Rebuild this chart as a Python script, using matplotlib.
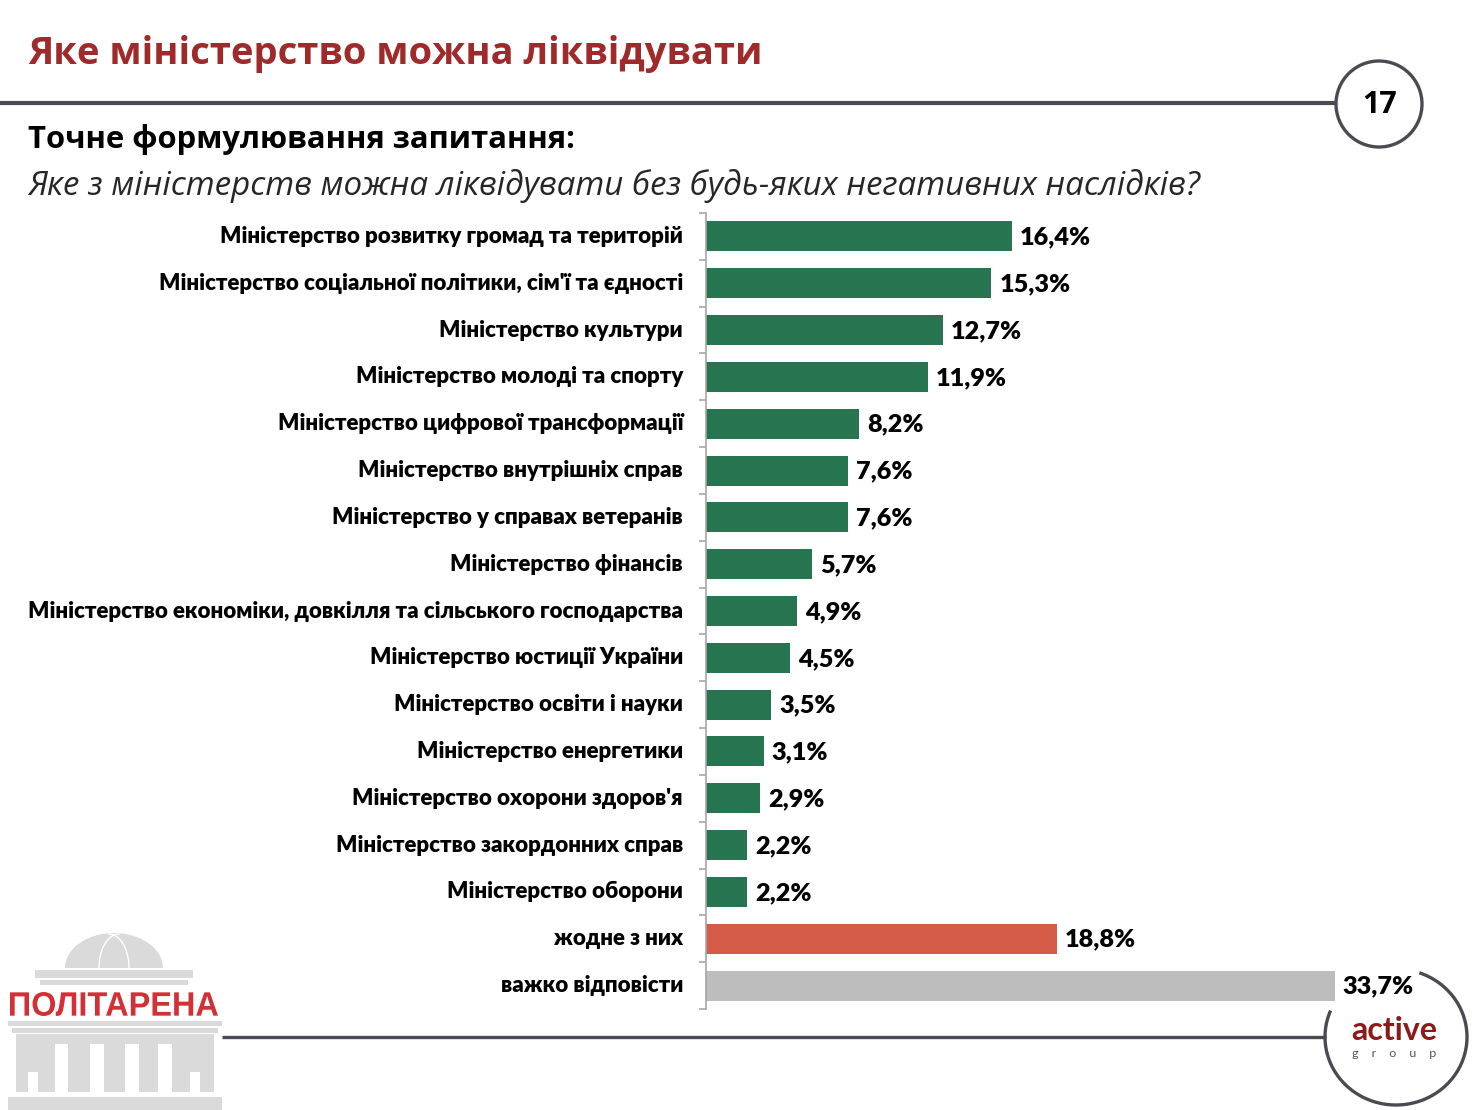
import numpy as np
import matplotlib
matplotlib.use('Agg')
import matplotlib.pyplot as plt
from matplotlib.patches import Circle, Arc, Rectangle, Polygon, PathPatch
from matplotlib.textpath import TextPath
from matplotlib.font_manager import FontProperties
from matplotlib.transforms import Affine2D

ministries = [
    'Міністерство розвитку громад та територій',
    'Міністерство соціальної політики, сім\'ї та єдності',
    'Міністерство культури',
    'Міністерство молоді та спорту',
    'Міністерство цифрової трансформації',
    'Міністерство внутрішніх справ',
    'Міністерство у справах ветеранів',
    'Міністерство фінансів',
    'Міністерство економіки, довкілля та сільського господарства',
    'Міністерство юстиції України',
    'Міністерство освіти і науки',
    'Міністерство енергетики',
    'Міністерство охорони здоров\'я',
    'Міністерство закордонних справ',
    'Міністерство оборони',
    'жодне з них',
    'важко відповісти',
]
values = [16.4, 15.3, 12.7, 11.9, 8.2, 7.6, 7.6, 5.7, 4.9, 4.5, 3.5, 3.1, 2.9, 2.2, 2.2, 18.8, 33.7]
bar_colors = ['#267550'] * 15 + ['#D35B48', '#BDBDBD']

title = 'Яке міністерство можна ліквідувати'
subtitle = 'Точне формулювання запитання:'
question = 'Яке з міністерств можна ліквідувати без будь-яких негативних наслідків?'
page_no = '17'

W, H = 1480, 1110
fig = plt.figure(figsize=(14.8, 11.1), dpi=100)
renderer = fig.canvas.get_renderer()


def fit(t, width_px):
    w = t.get_window_extent(renderer).width
    t.set_fontsize(t.get_fontsize() * width_px / w)


# background layer in pixel coordinates
bg = fig.add_axes([0, 0, 1, 1])
bg.set_xlim(0, W)
bg.set_ylim(H, 0)
bg.axis('off')
bg.set_zorder(0)

line_col = '#4A4A52'
head_font = 'Open Sans'
lab_font = 'Lato'

t = bg.text(28, 64, title, color='#9E2A2B', fontsize=28, fontweight='bold',
            family=head_font, va='baseline')
fit(t, 732)
t = bg.text(28, 148, subtitle, color='black', fontsize=20, fontweight='bold',
            family=head_font, va='baseline')
fit(t, 547)
t = bg.text(28, 195, question, color='#262626', fontsize=20, style='italic',
            family=head_font, va='baseline')
fit(t, 1169)

bg.plot([0, 1336], [103, 103], color=line_col, lw=3, solid_capstyle='butt')
bg.add_patch(Circle((1379, 104), 43, facecolor='white', edgecolor=line_col, lw=2.4))
bg.text(1380, 105, page_no, ha='center', va='center', fontsize=22, fontweight='bold',
        family=head_font, color='black')

bg.plot([222, 1326], [1037, 1037], color=line_col, lw=2.4, solid_capstyle='butt')
bg.add_patch(Arc((1396, 1037), 142, 136, theta1=-70, theta2=202, color=line_col, lw=2.4))
t = bg.text(1394, 1040, 'active', ha='center', va='baseline', fontsize=22,
            fontweight='bold', family=lab_font, color='#8B1A1A')
fit(t, 86)
t = bg.text(1394, 1057, 'g    r    o    u    p', ha='center', va='baseline', fontsize=9,
            family=lab_font, color='#555555')
fit(t, 84)

# politarena logo
logo_gray = '#DADADA'
th = np.linspace(0, np.pi, 60)
bg.add_patch(Polygon(np.column_stack([114 + 49 * np.cos(th), 968 - 35 * np.sin(th)]),
                     closed=True, facecolor=logo_gray, edgecolor='none'))
bg.plot(114 + 20 * np.cos(th[:31]) - 5, 968 - 34 * np.sin(th[:31]), color='white', lw=1)
bg.plot(114 - 20 * np.cos(th[:31]) + 5, 968 - 34 * np.sin(th[:31]), color='white', lw=1)
for x0, y0, w, h in [(35, 970, 158, 8), (40, 980, 148, 5), (8, 1021, 214, 5),
                     (12, 1028, 206, 5), (16, 1034, 198, 58), (8, 1097, 214, 13)]:
    bg.add_patch(Rectangle((x0, y0), w, h, facecolor=logo_gray, edgecolor='none'))
for x0, y0, w, h in [(28, 1072, 10, 20), (55, 1044, 13, 48), (90, 1044, 14, 48),
                     (125, 1044, 14, 48), (158, 1044, 14, 48), (190, 1072, 10, 20)]:
    bg.add_patch(Rectangle((x0, y0), w, h, facecolor='white', edgecolor='none'))
tp = TextPath((0, 0), 'ПОЛІТАРЕНА', size=1,
              prop=FontProperties(family='Liberation Sans', weight='bold'))
bb = tp.get_extents()
tr = Affine2D().translate(-bb.x0, -bb.y0).scale(208 / bb.width, -24 / bb.height).translate(10, 1016)
bg.add_patch(PathPatch(tr.transform_path(tp), facecolor='#D32F35', edgecolor='none'))

# bar chart
ax = fig.add_axes([706 / W, 1 - 1009 / H, 746 / W, 796 / H])
ax.set_zorder(1)
ax.patch.set_alpha(0)
n = len(values)
y = np.arange(n)
ax.barh(y, values, height=0.64, color=bar_colors)
ax.set_xlim(0, 40)
ax.set_ylim(n - 0.5, -0.5)
for s in ['top', 'right', 'bottom']:
    ax.spines[s].set_visible(False)
ax.spines['left'].set_color('#A6A6A6')
ax.spines['left'].set_linewidth(1.2)
ax.set_xticks([])
ax.set_yticks([])
ax.set_yticks(np.arange(-0.5, n, 1), minor=True)
ax.tick_params(axis='y', which='minor', length=5, width=1.2, color='#A6A6A6', labelleft=False)

labs = []
for i, name in enumerate(ministries):
    labs.append(ax.annotate(name, (0, i), xycoords=('axes fraction', 'data'),
                            xytext=(-23, 0), textcoords='offset pixels',
                            ha='right', va='center', fontsize=15, fontweight='heavy',
                            family=lab_font, color='black'))
longest = max(labs, key=lambda a: a.get_window_extent(renderer).width)
fit(longest, 658)
for a in labs:
    a.set_fontsize(longest.get_fontsize())

vals = []
for i, v in enumerate(values):
    vals.append(ax.annotate(f'{v:.1f}%'.replace('.', ','), (v, i),
                            xytext=(8, -1), textcoords='offset pixels',
                            ha='left', va='center', fontsize=17, fontweight='heavy',
                            family=lab_font, color='black'))
fit(vals[0], 71)
for a in vals:
    a.set_fontsize(vals[0].get_fontsize())

fig.savefig('out.png', dpi=100)
